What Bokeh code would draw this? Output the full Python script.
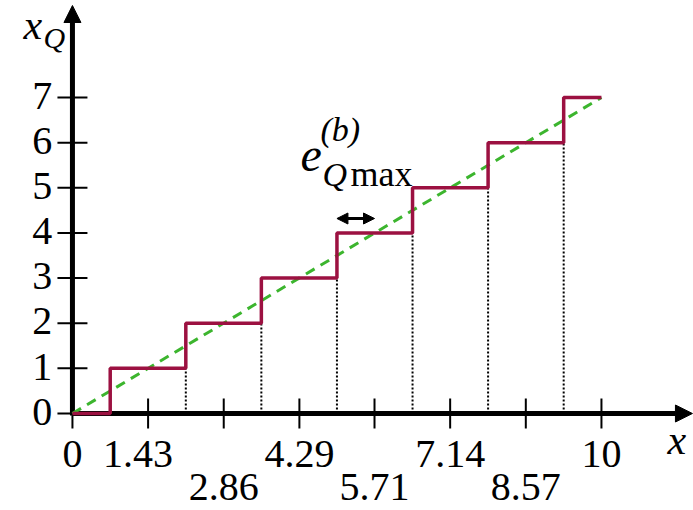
from bokeh.plotting import figure
from bokeh.models import Range1d, Arrow, NormalHead
from bokeh.core.properties import value
from bokeh.embed import file_html
from bokeh.resources import INLINE

# ---- data ----
x_ticks = [0, 1.43, 2.86, 4.29, 5.71, 7.14, 8.57, 10]
x_tick_labels = ["0", "1.43", "2.86", "4.29", "5.71", "7.14", "8.57", "10"]
y_ticks = [0, 1, 2, 3, 4, 5, 6, 7]
y_tick_labels = ["0", "1", "2", "3", "4", "5", "6", "7"]
step_edges = [0, 0.714, 2.143, 3.571, 5.0, 6.429, 7.857, 9.286, 10]
step_levels = [0, 1, 2, 3, 4, 5, 6, 7, 7]
ideal_x = [0, 10]
ideal_y = [0, 7]

FONT = value("'Liberation Serif', 'Times New Roman', serif")
RED = "#9c1141"
GREEN = "#3cb52e"

W, H = 693, 510
p = figure(width=W, height=H, output_backend="svg", toolbar_location=None,
           x_range=Range1d(-1.36, 11.74), y_range=Range1d(-2.149, 9.15),
           x_axis_type=None, y_axis_type=None, min_border=0)
p.grid.visible = False
p.outline_line_color = None
p.background_fill_color = "white"
p.border_fill_color = "white"

px = 13.1 / W       # data units per pixel (x)
py = 11.299 / H     # data units per pixel (y)


def base(pix_y, size):
    """data y for a text whose visible baseline sits at pixel row pix_y"""
    return (413 - pix_y + 0.37 * size) * py


def txt(pix_x, pix_y, s, size, italic=False, align="left"):
    p.text(x=[(pix_x - 72) * px], y=[base(pix_y, size)], text=[s], text_font=FONT,
           text_font_size=f"{size}px", text_font_style="italic" if italic else "normal",
           text_align=align, text_baseline="alphabetic", text_color="black")


# axes with arrows
p.add_layout(Arrow(x_start=0, y_start=0, x_end=(692 - 72) * px, y_end=0,
                   line_width=5, line_color="black",
                   end=NormalHead(size=17, fill_color="black", line_color="black")))
p.add_layout(Arrow(x_start=0, y_start=-2 * py, x_end=0, y_end=(413 - 5) * py,
                   line_width=5, line_color="black",
                   end=NormalHead(size=17, fill_color="black", line_color="black")))

# ticks
tx = 15 * py
p.segment(x0=x_ticks, y0=[-tx] * len(x_ticks), x1=x_ticks, y1=[tx] * len(x_ticks),
          line_color="black", line_width=2)
ty = 15 * px
p.segment(x0=[-ty] * len(y_ticks), y0=y_ticks, x1=[ty] * len(y_ticks), y1=y_ticks,
          line_color="black", line_width=2)

# tick labels (alternating rows)
row_y = [base(501 if (i > 0 and i % 2 == 0) else 468, 40) for i in range(len(x_ticks))]
x_off = [(-10 if i == 1 else 0) for i in range(len(x_ticks))]
p.text(x=x_ticks, y=row_y, text=x_tick_labels, x_offset=x_off, text_font=FONT,
       text_font_size="40px", text_align="center", text_baseline="alphabetic",
       text_color="black")
p.text(x=[-0.38] * len(y_ticks), y=[v + base(426, 40) for v in y_ticks], text=y_tick_labels,
       text_font=FONT, text_font_size="40px", text_align="right",
       text_baseline="alphabetic", text_color="black")

# dotted guides
p.segment(x0=step_edges[2:8], y0=[0] * 6, x1=step_edges[2:8], y1=step_levels[1:7],
          line_color="black", line_width=2, line_dash="2 2")

# ideal line (dashed green) and quantizer staircase
g = p.line(ideal_x, ideal_y, line_color=GREEN, line_width=3, line_dash="10 7")
r = p.step(x=step_edges, y=step_levels, mode="after", line_color=RED, line_width=3.5)
g.level = "overlay"
r.level = "overlay"

# axis titles
txt(23, 40, "x", 42, italic=True)
txt(43, 48, "Q", 30, italic=True)
txt(667, 455, "x", 42, italic=True)

# annotation e^(b)_Qmax with double arrow
txt(300, 172, "e", 48, italic=True)
txt(320, 142, "(b)", 34, italic=True)
txt(322, 187, "Q", 34, italic=True)
txt(350, 187, "max", 36)

p.add_layout(Arrow(x_start=step_edges[4], y_start=4.32, x_end=x_ticks[4], y_end=4.32,
                   line_width=3, line_color="black",
                   start=NormalHead(size=11, fill_color="black", line_color="black"),
                   end=NormalHead(size=11, fill_color="black", line_color="black")))

open("out.html", "w").write(file_html(p, INLINE))
